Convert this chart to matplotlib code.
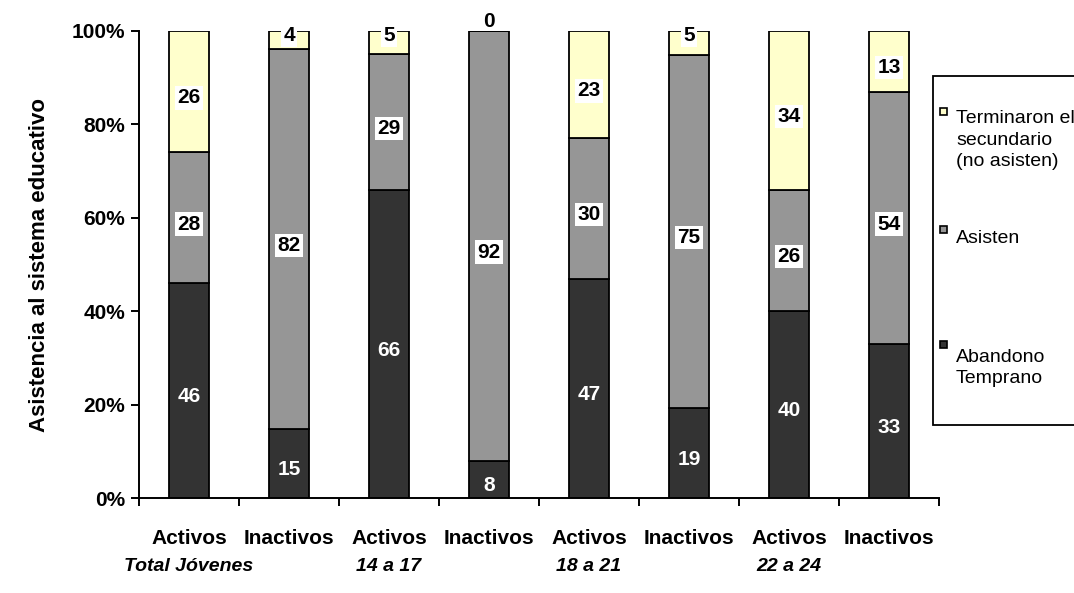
import numpy as np
import matplotlib.pyplot as plt
from matplotlib.patches import Rectangle

plt.rcParams['font.family'] = ['Liberation Sans', 'DejaVu Sans']

# --------------
# datos
# --------------
categorias = ['Activos', 'Inactivos', 'Activos', 'Inactivos',
              'Activos', 'Inactivos', 'Activos', 'Inactivos']
grupos = ['Total Jóvenes', '14 a 17', '18 a 21', '22 a 24']
abandono = [46, 15, 66, 8, 47, 19, 40, 33]
asisten = [28, 82, 29, 92, 30, 75, 26, 54]
terminaron = [26, 4, 5, 0, 23, 5, 34, 13]

series = [abandono, asisten, terminaron]
nombres = ['Abandono\nTemprano', 'Asisten', 'Terminaron el\nsecundario\n(no asisten)']
colores = ['#333333', '#969696', '#FFFFCC']

W, H = 1074, 593
fig = plt.figure(figsize=(W / 100, H / 100), dpi=100)
ax = fig.add_axes([139 / W, 1 - 498 / H, 800 / W, 467 / H])

x = np.arange(len(categorias)) + 0.5
datos = np.array(series, dtype=float)
pct = datos / datos.sum(axis=0) * 100

base = np.zeros(len(categorias))
for k in range(3):
    ax.bar(x, pct[k], width=0.4, bottom=base, color=colores[k],
           edgecolor='black', linewidth=1.3, zorder=2)
    for i in range(len(categorias)):
        v = series[k][i]
        h = pct[k][i]
        if v == 0:
            y, dy = base[i] + h + 2.0, 0
        elif h < 8:
            y, dy = 99, 0
        else:
            y, dy = base[i] + h / 2, -4.5
        if k == 0:
            ax.annotate(str(v), (x[i], y), xytext=(0, dy), textcoords='offset points',
                        ha='center', va='center', fontsize=15, fontweight='bold',
                        color='white', zorder=4)
        else:
            box = dict(boxstyle='square,pad=0.1', fc='white', ec='none')
            ax.annotate(str(v), (x[i], y), xytext=(0, dy), textcoords='offset points',
                        ha='center', va='center', fontsize=15, fontweight='bold',
                        color='black', bbox=box if v != 0 else None,
                        zorder=4, annotation_clip=False)
    base = base + pct[k]

ax.set_xlim(0, len(categorias))
ax.set_ylim(0, 100)
ax.set_yticks(np.arange(0, 101, 20))
ax.set_yticklabels(['%d%%' % v for v in range(0, 101, 20)], fontsize=15, fontweight='bold')
ax.set_xticks(x)
ax.set_xticklabels(categorias, fontsize=15, fontweight='bold')
ax.set_xticks(np.arange(len(categorias) + 1), minor=True)
ax.tick_params(axis='x', which='major', length=0, pad=22)
ax.tick_params(axis='x', which='minor', length=6, width=1.4, direction='out')
ax.tick_params(axis='y', length=6, width=1.4, direction='out', pad=4)

for s in ['top', 'right']:
    ax.spines[s].set_visible(False)
for s in ['left', 'bottom']:
    ax.spines[s].set_linewidth(1.4)

for j, g in enumerate(grupos):
    ax.text(2 * j + 0.5, -0.146, g, transform=ax.get_xaxis_transform(),
            ha='center', va='center', fontsize=14, fontweight='bold', style='italic')

fig.text(40 / W, 1 - 265 / H, 'Asistencia al sistema educativo', rotation=90,
         ha='center', va='center', fontsize=16, fontweight='bold')

# --------------
# leyenda
# --------------
fig.add_artist(Rectangle((933 / W, 1 - 425 / H), 200 / W, 349 / H,
                         transform=fig.transFigure, fc='white', ec='black', lw=1.3))
leyenda = [(2, 108, [123, 145, 166]), (1, 226, [243]), (0, 341, [362, 383])]
for k, ytop, lineas in leyenda:
    fig.add_artist(Rectangle((940 / W, 1 - (ytop + 7) / H), 7 / W, 7 / H,
                             transform=fig.transFigure, fc=colores[k], ec='black', lw=1.2))
    for txt, yb in zip(nombres[k].split('\n'), lineas):
        fig.text(956 / W, 1 - yb / H, txt, ha='left', va='baseline', fontsize=14)

fig.savefig('out.png', dpi=100)
